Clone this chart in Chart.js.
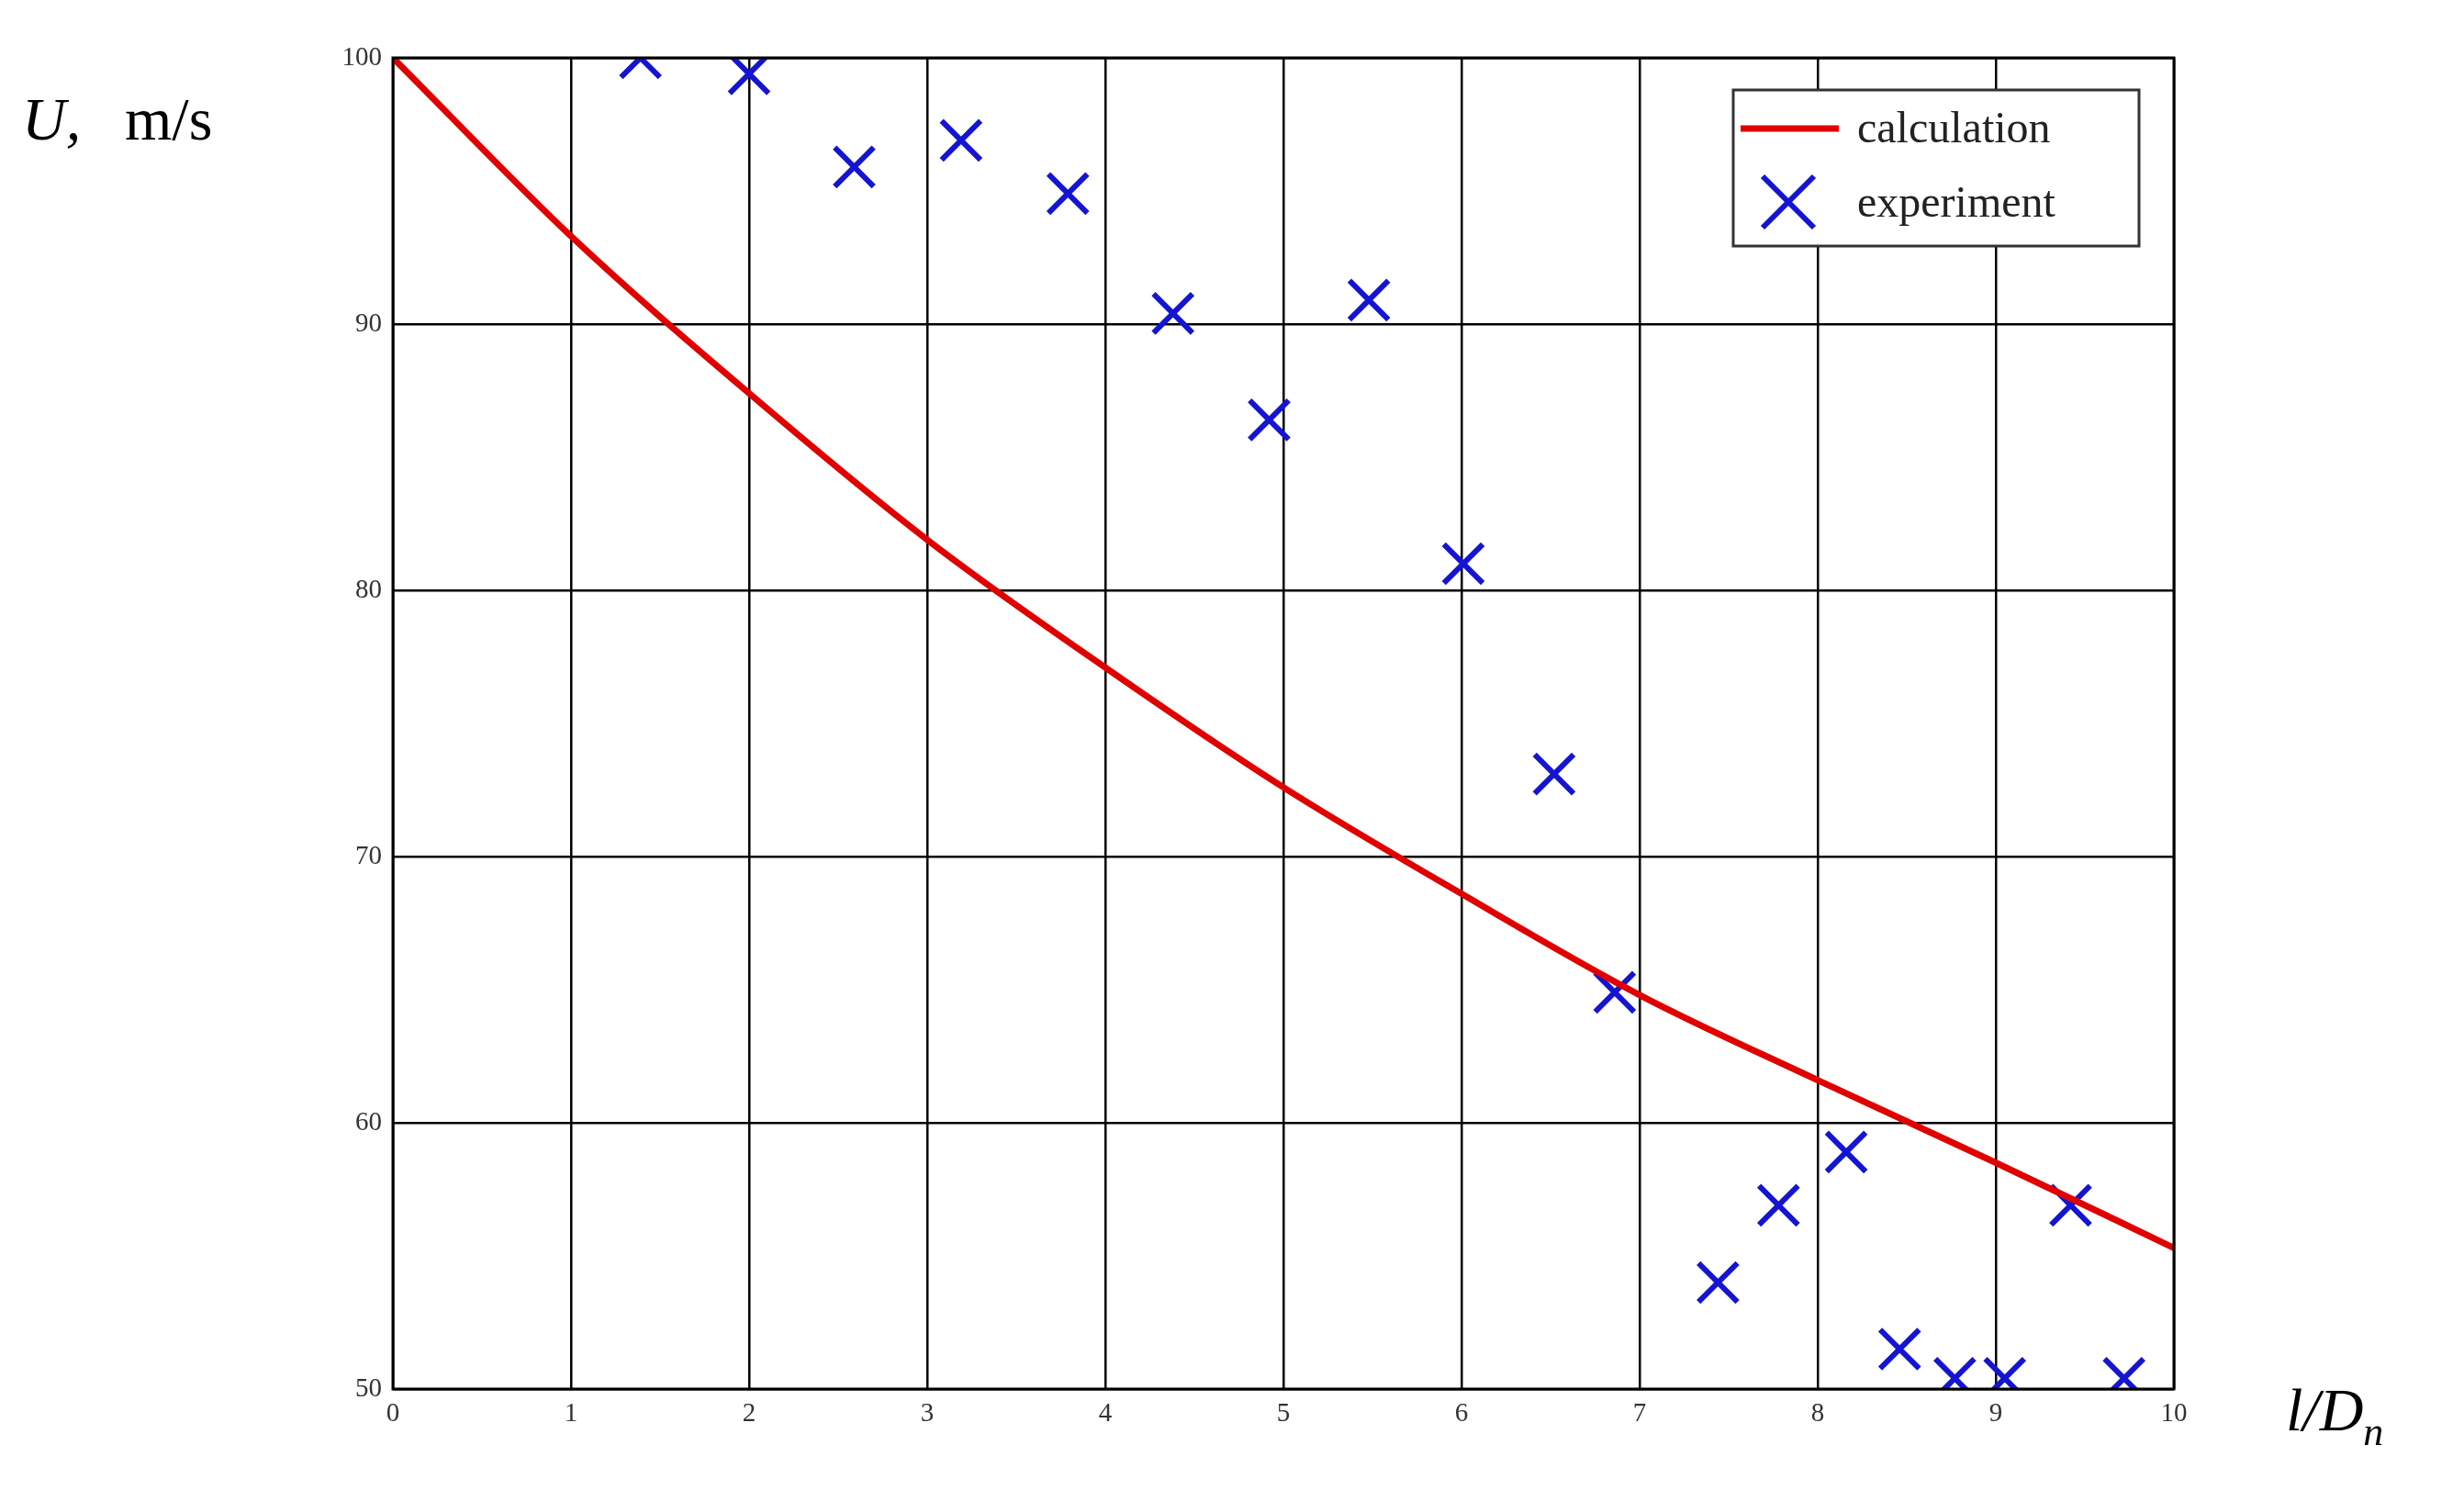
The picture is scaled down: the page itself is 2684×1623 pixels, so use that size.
<!DOCTYPE html>
<html><head><meta charset="utf-8">
<script src="https://cdn.jsdelivr.net/npm/chart.js@4/dist/chart.umd.min.js"></script>
<style>html,body{margin:0;padding:0;background:#fff}#w{width:2684px;height:1623px}</style>
</head><body><div id="w"><canvas id="c"></canvas></div>
<script>
const calcX = [0,1,2,3,4,5,6,7,8,9,10];
const calcY = [100,93.3,87.4,81.9,77.1,72.6,68.6,64.8,61.6,58.5,55.3];
const expX = [1.39,2.0,2.59,3.19,3.79,4.38,4.92,5.48,6.01,6.52,6.86,7.44,7.78,8.16,8.46,8.77,9.05,9.42,9.72];
const expY = [100,99.4,95.9,96.9,94.9,90.4,86.4,90.9,81.0,73.1,64.9,54.0,56.9,58.9,51.5,50.4,50.4,56.9,50.4];
const xTicks = [0,1,2,3,4,5,6,7,8,9,10];
const yTicks = [50,60,70,80,90,100];
const labels = ["calculation","experiment"];

const extras = {
  id:'extras',
  afterDraw(ch){
    const c=ch.ctx, a=ch.chartArea;
    c.save();
    c.strokeStyle='#000';c.lineWidth=3;c.strokeRect(a.left,a.top,a.right-a.left,a.bottom-a.top);
    c.fillStyle='#000';c.textBaseline='alphabetic';c.textAlign='left';
    c.font='italic 66px "Liberation Serif"';c.fillText('U,',24,152);
    c.font='66px "Liberation Serif"';c.fillText('m/s',136,152);
    c.font='italic 66px "Liberation Serif"';c.fillText('l/D',2490,1558);
    const w=c.measureText('l/D').width;
    c.font='italic 44px "Liberation Serif"';c.fillText('n',2490+w,1574);
    const lx=1888,ly=98,lw=442,lh=170;
    c.fillStyle='#fff';c.fillRect(lx,ly,lw,lh);
    c.strokeStyle='#333';c.lineWidth=3;c.strokeRect(lx,ly,lw,lh);
    c.strokeStyle='#e00000';c.lineWidth=7;c.beginPath();c.moveTo(lx+8,ly+42);c.lineTo(lx+115,ly+42);c.stroke();
    c.strokeStyle='#1414d2';c.lineWidth=6;const cx=lx+60,cy=ly+122,r=28;
    c.beginPath();c.moveTo(cx-r,cy-r);c.lineTo(cx+r,cy+r);c.moveTo(cx+r,cy-r);c.lineTo(cx-r,cy+r);c.stroke();
    c.fillStyle='#222';c.font='48px "Liberation Serif"';
    c.fillText(labels[0],lx+135,ly+57);c.fillText(labels[1],lx+135,ly+138);
    c.restore();
  }
};

new Chart(document.getElementById('c'),{
  type:'scatter',
  data:{datasets:[
    {label:labels[0],type:'line',data:calcX.map((x,i)=>({x,y:calcY[i]})),borderColor:'#e00000',borderWidth:7,pointRadius:0,cubicInterpolationMode:'monotone',fill:false},
    {label:labels[1],data:expX.map((x,i)=>({x,y:expY[i]})),pointStyle:'crossRot',pointRadius:30,borderColor:'#1414d2',borderWidth:6}
  ]},
  options:{responsive:true,maintainAspectRatio:false,animation:false,
    layout:{padding:{top:63,right:316,left:0,bottom:0}},
    plugins:{legend:{display:false},tooltip:{enabled:false}},
    scales:{
      x:{type:'linear',min:0,max:10,afterBuildTicks(s){s.ticks=xTicks.map(v=>({value:v}));},
        afterFit(s){s.height=110;},
        grid:{color:'#000',lineWidth:2.5,drawTicks:false},border:{display:false},
        ticks:{color:'#333',font:{family:'Liberation Serif',size:29},padding:10}},
      y:{min:50,max:100,afterBuildTicks(s){s.ticks=yTicks.map(v=>({value:v}));},
        afterFit(s){s.width=428;},
        grid:{color:'#000',lineWidth:2.5,drawTicks:false},border:{display:false},
        ticks:{color:'#333',font:{family:'Liberation Serif',size:29},padding:12}}
    }},
  plugins:[extras]
});
</script></body></html>
